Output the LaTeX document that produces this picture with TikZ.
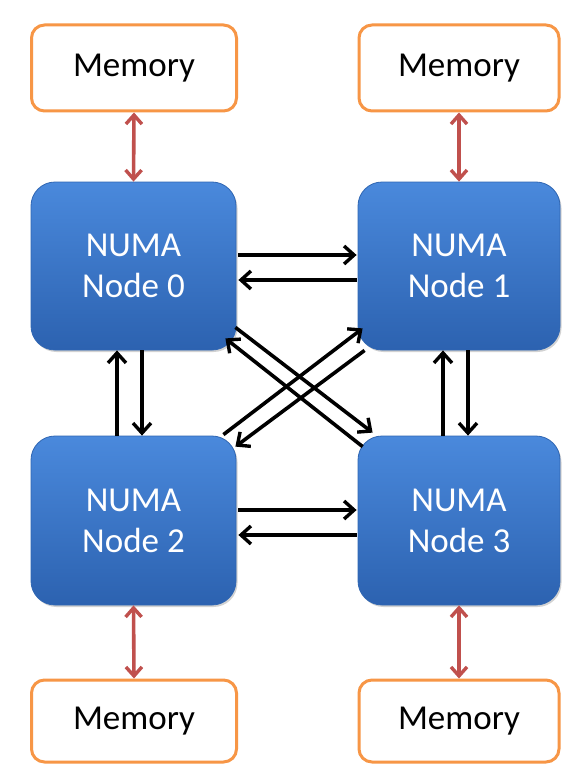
\documentclass[tikz,border=0pt]{standalone}
\usepackage{fontspec}
\setmainfont{Carlito}
\usetikzlibrary{arrows.meta,shadows}
\definecolor{memorange}{HTML}{F79646}
\definecolor{memred}{HTML}{C0504D}
\definecolor{numatop}{HTML}{4A89DC}
\definecolor{numabot}{HTML}{2C62B0}
\definecolor{numaedge}{HTML}{2F66B3}
\tikzset{
  numabox/.style={rounded corners=24pt, top color=numatop, bottom color=numabot,
    draw=numaedge, line width=0.8pt, text=white, align=center,
    font=\fontsize{35}{41}\selectfont,
    drop shadow={opacity=0.35, shadow xshift=1.5pt, shadow yshift=-2pt}},
  membox/.style={rounded corners=13pt, draw=memorange, line width=3pt, fill=white,
    text=black, font=\fontsize{35}{41}\selectfont},
  link/.style={draw=black, line width=3.6pt, -{Straight Barb[length=10pt,width=18pt,line width=3.4pt]}},
  memlink/.style={draw=memred, line width=3.6pt,
    {Straight Barb[length=9pt,width=16pt,line width=3.4pt]}-{Straight Barb[length=9pt,width=16pt,line width=3.4pt]}}
}
\begin{document}
\begin{tikzpicture}[x=1pt,y=-1pt]
\useasboundingbox[fill=white] (0,0) rectangle (563,765);
% NUMA nodes
\node[numabox, minimum width=205pt, minimum height=168pt] (n0) at (133.5,266) {NUMA\\Node 0};
\node[numabox, minimum width=202pt, minimum height=168pt] (n1) at (459,266) {NUMA\\Node 1};
\node[numabox, minimum width=205pt, minimum height=169pt] (n2) at (133.5,520.5) {NUMA\\Node 2};
\node[numabox, minimum width=202pt, minimum height=169pt] (n3) at (459,520.5) {NUMA\\Node 3};
% Memories
\node[membox, minimum width=205pt, minimum height=86pt] (m0) at (134,68) {Memory};
\node[membox, minimum width=200pt, minimum height=86pt] (m1) at (459,68) {Memory};
\node[membox, minimum width=205pt, minimum height=82pt] (m2) at (134,721) {Memory};
\node[membox, minimum width=200pt, minimum height=82pt] (m3) at (459,721) {Memory};
% memory links
\draw[memlink] (m0.south) -- (n0.north);
\draw[memlink] (m1.south) -- (n1.north);
\draw[memlink] (n2.south) -- (m2.north);
\draw[memlink] (n3.south) -- (m3.north);
% horizontal links
\draw[link] ([xshift=2pt,yshift=11pt]n0.east) -- ([xshift=-1pt,yshift=11pt]n1.west);
\draw[link] ([xshift=-1pt,yshift=-14pt]n1.west) -- ([xshift=2pt,yshift=-14pt]n0.east);
\draw[link] ([xshift=2pt,yshift=10.5pt]n2.east) -- ([xshift=-1pt,yshift=10.5pt]n3.west);
\draw[link] ([xshift=-1pt,yshift=-14.5pt]n3.west) -- ([xshift=2pt,yshift=-14.5pt]n2.east);
% vertical links
\draw[link] ([xshift=-16.5pt]n2.north) -- ([xshift=-16.5pt]n0.south);
\draw[link] ([xshift=8.5pt]n0.south) -- ([xshift=8.5pt]n2.north);
\draw[link] ([xshift=-16pt]n3.north) -- ([xshift=-16pt]n1.south);
\draw[link] ([xshift=9pt]n1.south) -- ([xshift=9pt]n3.north);
% diagonal links
\draw[link] ([xshift=-1pt,yshift=23pt]n0.south east) -- ([xshift=15pt,yshift=3pt]n3.north west);
\draw[link] ([xshift=5pt,yshift=-11pt]n3.north west) -- ([xshift=-11pt,yshift=12pt]n0.south east);
\draw[link] ([xshift=-13pt,yshift=1pt]n2.north east) -- ([xshift=5pt,yshift=22pt]n1.south west);
\draw[link] ([xshift=7pt]n1.south west) -- ([xshift=-1pt,yshift=-11pt]n2.north east);
\end{tikzpicture}
\end{document}
